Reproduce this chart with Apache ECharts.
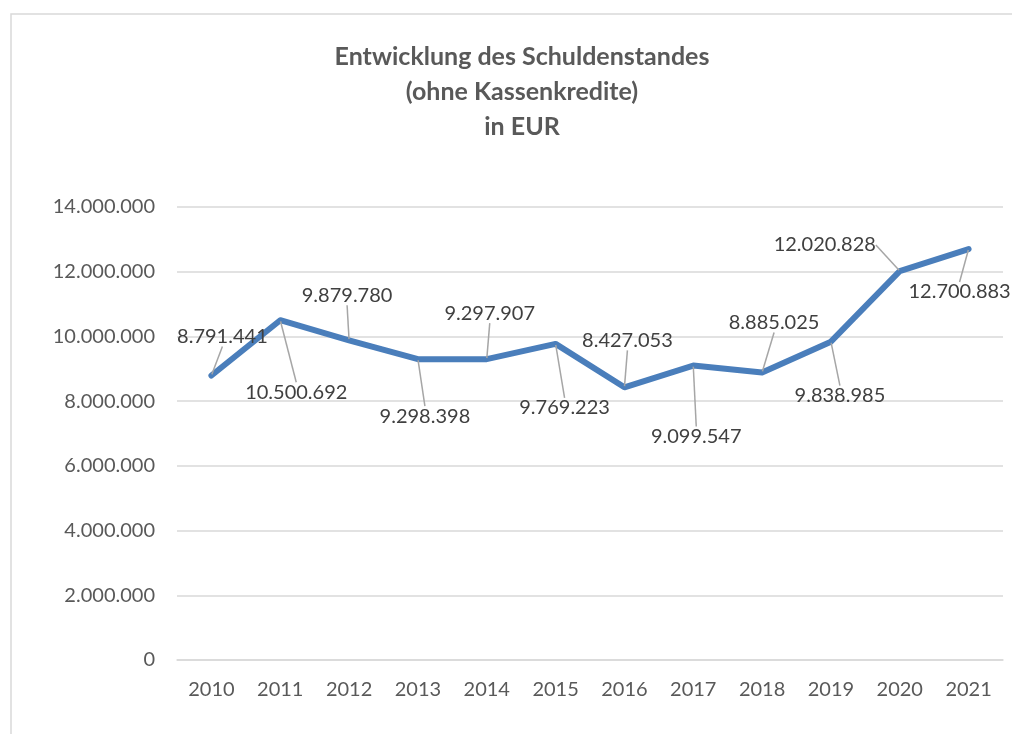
<!DOCTYPE html>
<html>
<head>
<meta charset="utf-8">
<script src="https://cdn.jsdelivr.net/npm/echarts@6/dist/echarts.min.js"></script>
<style>
  html, body { margin: 0; padding: 0; background: #fff; }
  #chart { width: 1012px; height: 734px; }
</style>
</head>
<body>
<div id="chart"></div>
<script>
// Schuldenstand ohne Kassenkredite
const years = ["2010", "2011", "2012", "2013", "2014", "2015", "2016", "2017", "2018", "2019", "2020", "2021"];
const debt = [8791441, 10500692, 9879780, 9298398, 9297907, 9769223, 8427053, 9099547, 8885025, 9838985, 12020828, 12700883];
const yTicks = [0, 2000000, 4000000, 6000000, 8000000, 10000000, 12000000, 14000000];

// Versatz der Datenbeschriftungen (Pixel, relativ zum Punkt)
const labelShift = [
  [11, -39], [16, 72], [-2, -45], [7, 57], [3, -46], [9, 64],
  [3, -47], [3, 71], [12, -50], [9, 54], [-75, -26], [-9, 43]
];

const fmt = v => String(v).replace(/\B(?=(\d{3})+(?!\d))/g, ".");
const font = "Lato, 'Noto Sans', sans-serif";

let myChart = echarts.init(document.getElementById("chart"));
let option = {
  backgroundColor: "#fff",
  animation: false,
  title: {
    text: "Entwicklung des Schuldenstandes\n(ohne Kassenkredite)\nin EUR",
    left: 517,
    textAlign: "center",
    top: 34,
    textStyle: {
      fontFamily: font,
      fontSize: 25,
      fontWeight: "bold",
      color: "#595959",
      lineHeight: 35,
      align: "center"
    }
  },
  graphic: [{ // Rahmen des Diagrammbereichs
    type: "rect",
    shape: { x: 11, y: 14, width: 1100, height: 800 },
    style: { fill: null, stroke: "#d9d9d9", lineWidth: 1.5 },
    silent: true
  }],
  grid: {
    left: 177,
    right: 9,
    top: 207,
    bottom: 74
  },
  xAxis: {
    type: "category",
    data: years,
    boundaryGap: true,
    axisLine: { show: true, lineStyle: { color: "#d9d9d9", width: 1.5 } },
    axisTick: { show: false },
    axisLabel: {
      color: "#595959",
      fontFamily: font,
      fontSize: 20,
      margin: 20
    }
  },
  yAxis: {
    type: "value",
    min: yTicks[0],
    max: yTicks[yTicks.length - 1],
    interval: 2000000,
    axisLine: { show: false },
    axisTick: { show: false },
    axisLabel: {
      color: "#595959",
      fontFamily: font,
      fontSize: 20,
      margin: 22,
      formatter: v => fmt(v)
    },
    splitLine: { show: true, lineStyle: { color: "#d9d9d9", width: 1.5 } }
  },
  series: [{
    type: "line",
    data: debt,
    symbol: "circle",
    symbolSize: 2,
    showSymbol: true,
    itemStyle: { color: "#4a7ebb" },
    lineStyle: { color: "#4a7ebb", width: 6, cap: "round", join: "round" },
    label: {
      show: true,
      position: "inside",
      color: "#404040",
      fontFamily: font,
      fontSize: 20,
      formatter: p => fmt(p.value)
    },
    labelLine: {
      show: true,
      lineStyle: { color: "#a6a6a6", width: 1.5 }
    },
    labelLayout: p => ({
      dx: labelShift[p.dataIndex][0],
      dy: labelShift[p.dataIndex][1]
    })
  }]
};
myChart.setOption(option);
</script>
</body>
</html>
